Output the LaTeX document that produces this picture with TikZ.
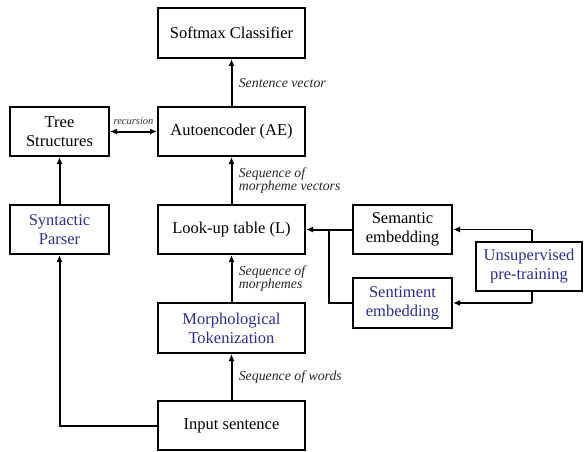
\documentclass[tikz,border=0pt]{standalone}
\usepackage{fontspec}
\setmainfont{Liberation Serif}
\usetikzlibrary{arrows.meta}
\definecolor{tblue}{RGB}{45,45,150}
\begin{document}
\begin{tikzpicture}[x=1pt,y=-1pt,
  box/.style={draw, line width=2pt, inner sep=0pt, font=\fontsize{16.5}{19}\selectfont, align=center},
  bluetext/.style={text=tblue},
  lbl/.style={font=\fontsize{13.8}{15}\selectfont\itshape, align=left, anchor=west, text=black!85},
  arr/.style={line width=2pt, -{Latex[length=7pt,width=6pt]}}]
\useasboundingbox (0,0) rectangle (584,452);
\node[box, minimum width=147pt, minimum height=50pt] (soft) at (231.5,33) {Softmax Classifier};
\node[box, minimum width=147pt, minimum height=49pt] (ae) at (231.5,131.5) {Autoencoder (AE)};
\node[box, minimum width=99pt, minimum height=49pt] (tree) at (59.5,131.5) {Tree\\Structures};
\node[box, minimum width=147pt, minimum height=49pt] (lut) at (231.5,229.5) {Look-up table (L)};
\node[box, bluetext, minimum width=99pt, minimum height=49pt] (parser) at (59.5,229.5) {Syntactic\\Parser};
\node[box, bluetext, minimum width=147pt, minimum height=50pt] (morph) at (231.5,328) {Morphological\\Tokenization};
\node[box, minimum width=147pt, minimum height=49pt] (input) at (231.5,425.5) {Input sentence};
\node[box, minimum width=99pt, minimum height=49pt] (sem) at (402.5,229.5) {Semantic\\embedding};
\node[box, bluetext, minimum width=99pt, minimum height=50pt] (sent) at (402.5,303) {Sentiment\\embedding};
\node[box, bluetext, minimum width=106pt, minimum height=49pt] (unsup) at (529,266.5) {Unsupervised\\pre-training};

\draw[arr] (ae) -- (soft) node[lbl, midway, xshift=3pt] {Sentence vector};
\draw[arr] (lut) -- (ae) node[lbl, midway, xshift=3pt] {Sequence of\\[-2pt]morpheme vectors};
\draw[arr] (morph) -- (lut) node[lbl, midway, xshift=3pt] {Sequence of\\[-2pt]morphemes};
\draw[arr] (input) -- (morph) node[lbl, midway, xshift=3pt] {Sequence of words};
\draw[arr] (parser) -- (tree);
\draw[line width=2pt, {Latex[length=7pt,width=6pt]}-{Latex[length=7pt,width=6pt]}] (tree) -- (ae)
  node[midway, above=3pt, font=\fontsize{10.5}{12}\selectfont\itshape, text=black!80] {recursion};
\draw[arr] (input.west) -| (parser.south);
\coordinate (j) at (329,229.5);
\draw[arr] (sem.west) -- (lut.east);
\draw[line width=2pt] (sent.west) -| (j);
\coordinate (ut) at (532,229.5);
\coordinate (ub) at (532,303);
\draw[line width=1.5pt] (unsup.north -| ut) -- (ut);
\draw[arr, line width=1.5pt] (ut) -- (sem.east);
\draw[line width=1.5pt] (unsup.south -| ub) -- (ub);
\draw[arr, line width=1.5pt] (ub) -- (sent.east);
\end{tikzpicture}
\end{document}
